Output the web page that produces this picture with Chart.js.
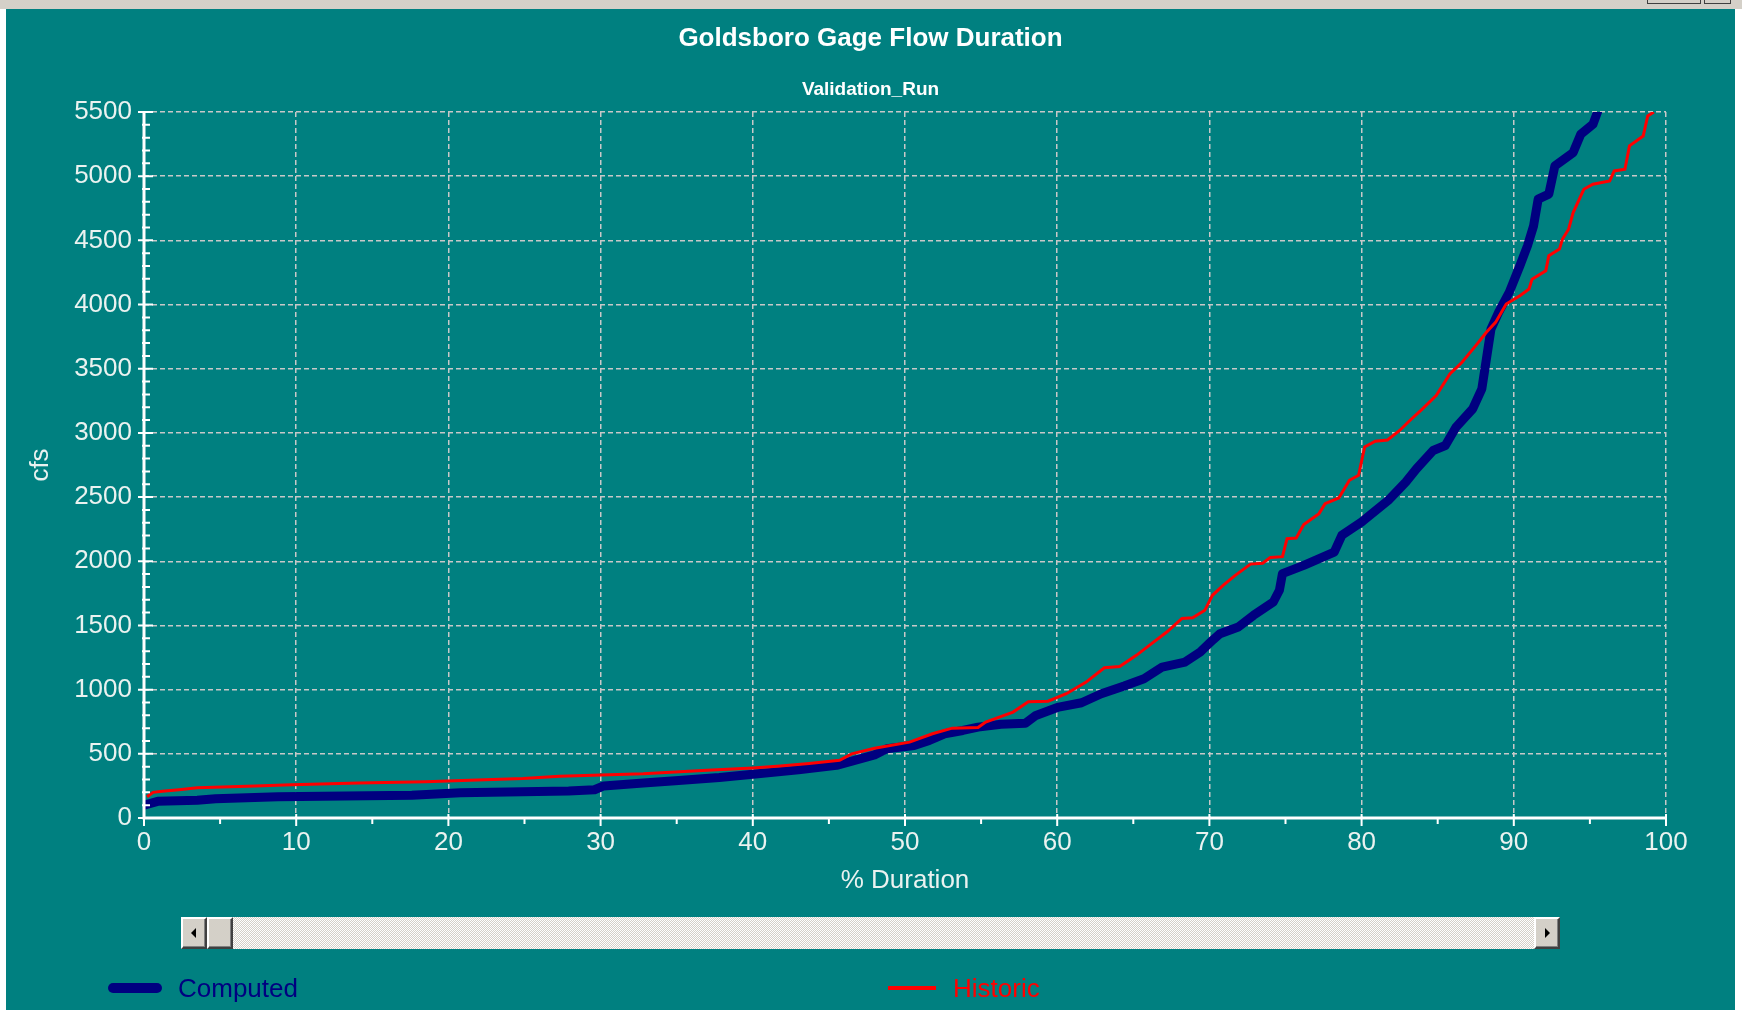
<!DOCTYPE html>
<html>
<head>
<meta charset="utf-8">
<title>Goldsboro Gage Flow Duration</title>
<script src="https://cdn.jsdelivr.net/npm/chart.js@4.4.1/dist/chart.umd.min.js"></script>
<style>
  html, body { margin: 0; padding: 0; background: #ffffff; }
  body { width: 1742px; height: 1010px; position: relative; overflow: hidden; font-family: "Liberation Sans", Arial, sans-serif; }
  #topbar { position: absolute; left: 0; top: 0; width: 1742px; height: 9px; background: #d4d0c8; }
  .winbtn { position: absolute; top: 0; height: 3px; border: 1px solid #404040; border-top: none; background: #d4d0c8; }
  #panel { position: absolute; left: 6px; top: 9px; width: 1729px; height: 1001px; background: #008080; }
  #chart { position: absolute; left: 0; top: 0; }
  .title { position: absolute; left: 6px; width: 1729px; text-align: center; color: #ffffff; font-weight: bold; }
  #scroll { position: absolute; left: 181px; top: 917px; width: 1379px; height: 32px;
    background: repeating-conic-gradient(#d4d0c8 0 25%, #ffffff 0 50%) 0 0 / 2px 2px; }
  .sbtn { position: absolute; top: 0; width: 22px; height: 28px; background: #d4d0c8;
    border-top: 2px solid #ffffff; border-left: 2px solid #ffffff;
    border-right: 2px solid #404040; border-bottom: 2px solid #404040; box-shadow: inset -1px -1px 0 #808080; }
  .arrow { position: absolute; top: 9px; width: 0; height: 0; border-top: 5px solid transparent; border-bottom: 5px solid transparent; }
  .legline { position: absolute; }
  .legtext { position: absolute; top: 972px; font-size: 26px; line-height: 32px; }
</style>
</head>
<body>
<div id="topbar"></div>
<div class="winbtn" style="left:1647px; width:52px;"></div>
<div class="winbtn" style="left:1704px; width:25px;"></div>
<div id="panel"></div>
<canvas id="chart" width="1742" height="1010"></canvas>
<div class="title" style="top:21px; font-size:26px; line-height:32px;">Goldsboro Gage Flow Duration</div>
<div class="title" style="top:77px; font-size:19px; line-height:24px;">Validation_Run</div>

<div id="scroll">
  <div class="sbtn" style="left:0;"><div class="arrow" style="left:8px; border-right:5px solid #000;"></div></div>
  <div class="sbtn" style="left:26px;"></div>
  <div class="sbtn" style="left:1353px;"><div class="arrow" style="left:9px; border-left:5px solid #000;"></div></div>
</div>

<div class="legline" style="left:108px; top:983px; width:54px; height:10px; background:#000080; border-radius:5px;"></div>
<div class="legtext" style="left:178px; color:#000080;">Computed</div>
<div class="legline" style="left:888px; top:986px; width:48px; height:4px; background:#ff0000;"></div>
<div class="legtext" style="left:953px; color:#ff0000;">Historic</div>

<script>
// Values (% duration, cfs)
const computedPct = [0, 0.9, 3.5, 4.7, 8.8, 17.6, 20.8, 27.9, 29.6, 30.2,
  32.8, 34.9, 37.8, 40, 43, 45.5, 48, 48.8, 50.6, 51.6,
  52.6, 53.8, 54.8, 56.3, 57.9, 58.6, 60.1, 61.6, 62.9, 64.4,
  65.7, 66.9, 68.4, 69.4, 70.2, 70.7, 71.9, 72.9, 74.2, 74.6,
  74.8, 76.2, 78.2, 78.7, 80, 81.8, 82.9, 83.6, 84.7, 85.5,
  86.2, 87.3, 87.9, 88.2, 88.5, 89, 89.7, 90.4, 90.9, 91.3,
  91.6, 92.3, 92.7, 93.9, 94.4, 95.2, 95.5];
const computedCfs = [100, 130, 138, 150, 166, 178, 197, 210, 220, 250,
  272, 290, 315, 341, 375, 410, 492, 539, 565, 604,
  656, 682, 708, 730, 738, 799, 864, 898, 968, 1028,
  1085, 1176, 1215, 1293, 1384, 1436, 1488, 1579, 1683, 1774,
  1904, 1968, 2072, 2202, 2306, 2480, 2617, 2720, 2863, 2902,
  3044, 3187, 3343, 3576, 3809, 3939, 4095, 4302, 4458, 4613,
  4821, 4860, 5080, 5184, 5326, 5404, 5500];

const historicPct = [0.2, 0.6, 1.2, 2.3, 3.5, 7.3, 9.7, 14.1, 18.5, 21.4,
  24.9, 27.3, 32.8, 34.9, 37, 40, 41.8, 43.7, 45.7, 46.5,
  48, 50.3, 51.8, 53.1, 54.8, 55.3, 57.1, 58.1, 59.4, 60.6,
  61.9, 63.1, 64.1, 65.2, 66.2, 67.2, 68.2, 68.9, 69.7, 70.2,
  70.9, 71.7, 72.7, 73.5, 74, 74.8, 75.1, 75.7, 76.2, 77.2,
  77.6, 78.5, 79.2, 79.8, 80.2, 80.9, 81.7, 82.5, 83.1, 84,
  84.9, 85.8, 86.6, 87.5, 88.2, 88.8, 89.5, 90.4, 91, 91.2,
  92.1, 92.3, 93, 93.2, 93.6, 93.9, 94.6, 95.2, 96.3, 96.6,
  97.3, 97.6, 98.5, 98.8, 99.2];
const historicCfs = [165, 200, 208, 220, 236, 249, 259, 272, 282, 295,
  308, 326, 344, 359, 372, 390, 405, 425, 450, 500,
  544, 591, 656, 700, 705, 747, 825, 905, 910, 968,
  1059, 1170, 1180, 1267, 1358, 1449, 1555, 1560, 1618, 1735,
  1812, 1890, 1978, 1985, 2030, 2036, 2176, 2181, 2286, 2371,
  2449, 2493, 2631, 2670, 2891, 2935, 2945, 3019, 3089, 3187,
  3291, 3459, 3550, 3680, 3784, 3861, 4004, 4069, 4121, 4198,
  4263, 4380, 4432, 4510, 4587, 4717, 4898, 4937, 4963, 5041,
  5054, 5236, 5313, 5469, 5500];

const xMin = 0, xMax = 100, xStep = 10, xMinorStep = 5;
const yMin = 0, yMax = 5500, yStep = 500, yMinorStep = 100;

const textColor = '#eaf2f0';
const gridColor = '#c8c8c8';

document.addEventListener('DOMContentLoaded', function () {
  const toPoints = (xs, ys) => xs.map((x, i) => ({ x: x, y: ys[i] }));

  // white axes with major / minor ticks, drawn on top
  const axesPlugin = {
    id: 'axesPlugin',
    afterDraw(chart) {
      const ctx = chart.ctx;
      const xs = chart.scales.x, ys = chart.scales.y;
      const x0 = xs.getPixelForValue(xMin), x1 = xs.getPixelForValue(xMax);
      const y0 = ys.getPixelForValue(yMin), y1 = ys.getPixelForValue(yMax);
      ctx.save();
      ctx.strokeStyle = '#ffffff';
      ctx.lineWidth = 3;
      ctx.beginPath();
      ctx.moveTo(x0, y1); ctx.lineTo(x0, y0 + 1.5);
      ctx.moveTo(x0 - 1.5, y0); ctx.lineTo(x1 + 1, y0);
      ctx.stroke();
      ctx.lineWidth = 2;
      ctx.beginPath();
      for (let v = yMin; v <= yMax; v += yMinorStep) {
        const y = ys.getPixelForValue(v);
        const major = v % yStep === 0;
        ctx.moveTo(x0 - (major ? 6 : 2), y);
        ctx.lineTo(x0 + (major ? 9 : 6), y);
      }
      for (let v = xMin; v <= xMax; v += xMinorStep) {
        const x = xs.getPixelForValue(v);
        const major = v % xStep === 0;
        ctx.moveTo(x, y0 - (major ? 4 : 0));
        ctx.lineTo(x, y0 + (major ? 8 : 6));
      }
      ctx.stroke();
      ctx.restore();
    }
  };

  const tickFont = { family: '"Liberation Sans", Arial, sans-serif', size: 26 };

  new Chart(document.getElementById('chart'), {
    type: 'line',
    data: {
      datasets: [
        {
          label: 'Historic',
          data: toPoints(historicPct, historicCfs),
          borderColor: '#ff0000',
          borderWidth: 3,
          pointRadius: 0,
          tension: 0,
          fill: false,
          order: 0,
        },
        {
          label: 'Computed',
          data: toPoints(computedPct, computedCfs),
          borderColor: '#000080',
          borderWidth: 9,
          borderCapStyle: 'round',
          borderJoinStyle: 'round',
          pointRadius: 0,
          tension: 0,
          fill: false,
          order: 1,
        },
      ],
    },
    options: {
      responsive: false,
      animation: false,
      devicePixelRatio: 1,
      layout: { padding: { left: 0, top: 112, right: 76, bottom: 112 } },
      plugins: {
        legend: { display: false },
        title: { display: false },
        tooltip: { enabled: false },
      },
      scales: {
        x: {
          type: 'linear',
          min: xMin,
          max: xMax,
          afterFit: (scale) => { scale.height = 80; },
          ticks: {
            stepSize: xStep,
            color: textColor,
            padding: 9,
            maxRotation: 0,
            font: tickFont,
            callback: (v) => String(v),
          },
          grid: { color: gridColor, lineWidth: 1.5, drawTicks: false },
          border: { display: false, dash: [5, 3] },
          title: {
            display: true,
            text: '% Duration',
            color: textColor,
            padding: { top: 0, bottom: 2 },
            font: tickFont,
          },
        },
        y: {
          min: yMin,
          max: yMax,
          afterFit: (scale) => { scale.width = 144; },
          ticks: {
            stepSize: yStep,
            color: textColor,
            padding: 12,
            font: tickFont,
            callback: (v) => String(v),
          },
          grid: { color: gridColor, lineWidth: 1.5, drawTicks: false },
          border: { display: false, dash: [5, 3] },
          title: {
            display: true,
            text: 'cfs',
            color: textColor,
            padding: { top: 25, bottom: 0 },
            font: tickFont,
          },
        },
      },
    },
    plugins: [axesPlugin],
  });
});
</script>
</body>
</html>
